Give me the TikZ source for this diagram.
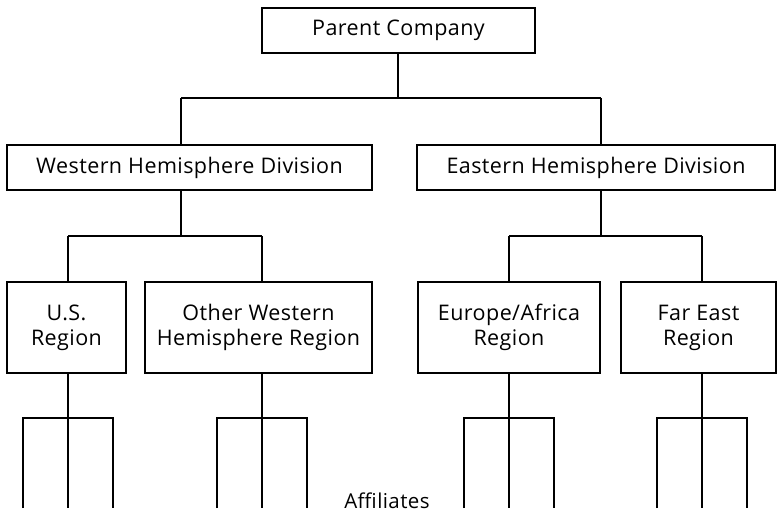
\documentclass[tikz,border=0pt]{standalone}
\usepackage{fontspec}
\setmainfont{Open Sans}[LetterSpace=2]
\begin{document}
\begin{tikzpicture}[x=1pt, y=-1pt, line width=1.8pt,
    unit/.style={draw, inner sep=0pt, align=center,
      font=\fontsize{21.5}{25}\selectfont}]
  \useasboundingbox (0,0) rectangle (777,514);

  % boxes
  \node[unit, minimum width=273pt, minimum height=45pt] (parent) at (398.5,30.5) {Parent Company};
  \node[unit, minimum width=365pt, minimum height=45pt] (west) at (189.5,167.5) {Western Hemisphere Division};
  \node[unit, minimum width=358pt, minimum height=45pt] (east) at (596,167.5) {Eastern Hemisphere Division};
  \node[unit, minimum width=119pt, minimum height=91pt] (us) at (66.5,327.5) {U.S.\\Region};
  \node[unit, minimum width=227pt, minimum height=91pt] (other) at (258.5,327.5) {Other Western\\Hemisphere Region};
  \node[unit, minimum width=182pt, minimum height=91pt] (europe) at (509,327.5) {Europe/Africa\\Region};
  \node[unit, minimum width=155pt, minimum height=91pt] (fareast) at (698.5,327.5) {Far East\\Region};
  \node[anchor=base, font=\fontsize{20.5}{25}\selectfont] (affiliates) at (387,508) {Affiliates};

  % junctions
  \coordinate (hub) at (398,98);
  \coordinate (jw) at (181,98);
  \coordinate (je) at (601,98);
  \coordinate (jus) at (68,236);
  \coordinate (jother) at (262,236);
  \coordinate (jeurope) at (509,236);
  \coordinate (jfareast) at (702,236);

  % parent to divisions
  \draw (parent.south -| hub) -- (hub);
  \draw (jw) -- (je);
  \draw (jw) -- (jw |- west.north);
  \draw (je) -- (je |- east.north);

  % divisions to regions
  \draw (west.south -| jw) -- (jw |- jus);
  \draw (jus) -- (jother);
  \draw (jus) -- (jus |- us.north);
  \draw (jother) -- (jother |- other.north);
  \draw (east.south -| je) -- (je |- jeurope);
  \draw (jeurope) -- (jfareast);
  \draw (jeurope) -- (jeurope |- europe.north);
  \draw (jfareast) -- (jfareast |- fareast.north);

  % affiliates under each region
  \foreach \r/\x in {us/68, other/262, europe/509, fareast/702} {
    \coordinate (fork) at (\x,418);
    \draw (\r.south -| fork) -- (fork) -- ++(0,90);
    \draw (fork) ++(-45,90) -- ++(0,-90) -- ++(90,0) -- ++(0,90);
  }
\end{tikzpicture}
\end{document}
